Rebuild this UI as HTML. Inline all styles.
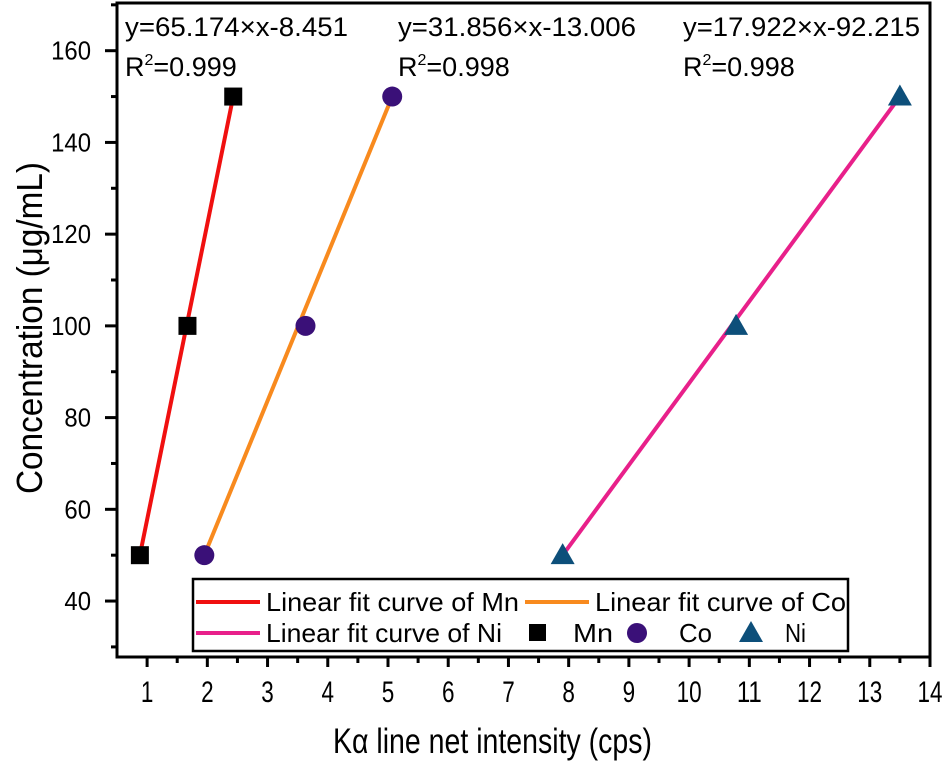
<!DOCTYPE html>
<html><head><meta charset="utf-8">
<style>
html,body{margin:0;padding:0;background:#fff;}
svg{display:block;font-family:"Liberation Sans",Arial,sans-serif;}
</style></head>
<body>
<svg id="chart" width="946" height="763" viewBox="0 0 946 763" xmlns="http://www.w3.org/2000/svg">
<g id="plot"></g>
</svg>
<script>
const seriesNames = ["Mn","Co","Ni"];
const mnX = [0.88, 1.67, 2.43];
const mnY = [50, 100, 150];
const coX = [1.95, 3.63, 5.07];
const coY = [50, 100, 150];
const niX = [7.9, 10.78, 13.5];
const niY = [50, 100, 150];
const xTicks = [1,2,3,4,5,6,7,8,9,10,11,12,13,14];
const yTicks = [40,60,80,100,120,140,160];
const equations = ["y=65.174×x-8.451","y=31.856×x-13.006","y=17.922×x-92.215"];
const r2Labels = ["0.999","0.998","0.998"];

const L=117, R=930, T=3, B=657;
const xMin=0.5, xMax=14, yMin=27.8, yMax=170.4;
const sx = v => L + (v - xMin) / (xMax - xMin) * (R - L);
const sy = v => B - (v - yMin) / (yMax - yMin) * (B - T);
const NS="http://www.w3.org/2000/svg";
const g=document.getElementById('plot');
function mk(tag, attrs, parent){const e=document.createElementNS(NS,tag);for(const k in attrs)e.setAttribute(k,attrs[k]);(parent||g).appendChild(e);return e;}
function fit(t,len){t.setAttribute('textLength',len);t.setAttribute('lengthAdjust','spacingAndGlyphs');}

// ticks
xTicks.forEach((t,i)=>{
  const x=sx(t);
  const tk=mk('line',{x1:x,x2:x,y1:B,y2:B+10,stroke:'#000','stroke-width':3});
  
  
  const lb=mk('text',{x:x,y:702,'text-anchor':'middle','font-size':30,fill:'#000'});
  lb.textContent=t;
  fit(lb,String(t).length*12.5);
  
  
  if(i<xTicks.length-1){
    const xm=sx(t+0.5);
    const m=mk('line',{x1:xm,x2:xm,y1:B,y2:B+6,stroke:'#000','stroke-width':3});
    
    
  }
});
yTicks.forEach((t)=>{
  const y=sy(t);
  const tk=mk('line',{x1:L-12,x2:L,y1:y,y2:y,stroke:'#000','stroke-width':3});
  
  
  const lb=mk('text',{x:L-26,y:y+9,'text-anchor':'end','font-size':26,fill:'#000'});
  lb.textContent=t;
  fit(lb,String(t).length*13.3);
  
  
});
[30,50,70,90,110,130,150,170].forEach(t=>{
  const y=sy(t);
  const m=mk('line',{x1:L-6,x2:L,y1:y,y2:y,stroke:'#000','stroke-width':3});
  
  
});

// fit lines
const series=[[mnX,mnY,'#f01010'],[coX,coY,'#f88a1e'],[niX,niY,'#e8208a']];
series.forEach((s,i)=>{
  const [xs,ys,c]=s;
  const ln=mk('line',{x1:sx(xs[0]),y1:sy(ys[0]),x2:sx(xs[xs.length-1]),y2:sy(ys[ys.length-1]),stroke:c,'stroke-width':4});
  
  
});
// markers
mnX.forEach((x,i)=>{
  const r=mk('rect',{x:sx(x)-9,y:sy(mnY[i])-9,width:18,height:18,fill:'#000'});
  
  
});
coX.forEach((x,i)=>{
  const c=mk('circle',{cx:sx(x),cy:sy(coY[i]),r:10,fill:'#3a1078'});
  
  
});
niX.forEach((x,i)=>{
  const cx=sx(x), cy=sy(niY[i]);
  const p=mk('polygon',{points:`${cx},${cy-12} ${cx-12},${cy+9} ${cx+12},${cy+9}`,fill:'#0d4f7a'});
  
  
});

// equation annotations
const annX=[125,398,683];
const eqLen=[223,238,237];
equations.forEach((e,i)=>{
  const t=mk('text',{x:annX[i],y:36,'font-size':27,fill:'#000'});
  t.textContent=e;
  fit(t,eqLen[i]);
  
  
  const r=mk('text',{x:annX[i],y:76,'font-size':27,fill:'#000'});
  r.innerHTML='R<tspan dy="-11" font-size="16">2</tspan><tspan dy="11">='+r2Labels[i]+'</tspan>';
  
  
});

// frame
const fr=mk('rect',{x:L,y:T,width:R-L,height:B-T,fill:'none',stroke:'#000','stroke-width':3});



// legend
const lg=mk('g',{});


mk('rect',{x:193,y:579,width:655,height:72,fill:'#fff',stroke:'#000','stroke-width':2.5},lg);
function legLine(x,y,c,label,name,len){
  const e=mk('g',{},lg);
  
  
  mk('line',{x1:x,x2:x+64,y1:y,y2:y,stroke:c,'stroke-width':4},e);
  const t=mk('text',{x:x+70,y:y+9,'font-size':26,fill:'#000'},e);t.textContent=label;
  fit(t,len);
}
legLine(196,602,'#f01010','Linear fit curve of Mn','legend-entry-mn-fit',253);
legLine(525,602,'#f88a1e','Linear fit curve of Co','legend-entry-co-fit',251);
legLine(196,633,'#e8208a','Linear fit curve of Ni','legend-entry-ni-fit',236);
{const e=mk('g',{},lg);
 mk('rect',{x:529,y:624,width:17,height:17,fill:'#000'},e);
 const t=mk('text',{x:573,y:642,'font-size':26},e);t.textContent='Mn';fit(t,40);}
{const e=mk('g',{},lg);
 mk('circle',{cx:637,cy:633,r:10,fill:'#3a1078'},e);
 const t=mk('text',{x:679,y:642,'font-size':26},e);t.textContent='Co';fit(t,33);}
{const e=mk('g',{},lg);
 mk('polygon',{points:'751,621 739,642 763,642',fill:'#0d4f7a'},e);
 const t=mk('text',{x:785,y:642,'font-size':26},e);t.textContent='Ni';fit(t,21);}

// axis titles
const xt=mk('text',{x:333,y:753,'font-size':35,fill:'#000'});
xt.textContent='Kα line net intensity (cps)';
fit(xt,319);


const yt=mk('text',{x:0,y:0,'font-size':36,fill:'#000',transform:'translate(42,494) rotate(-90)'});
yt.textContent='Concentration (μg/mL)';
fit(yt,332);


</script>
</body></html>
